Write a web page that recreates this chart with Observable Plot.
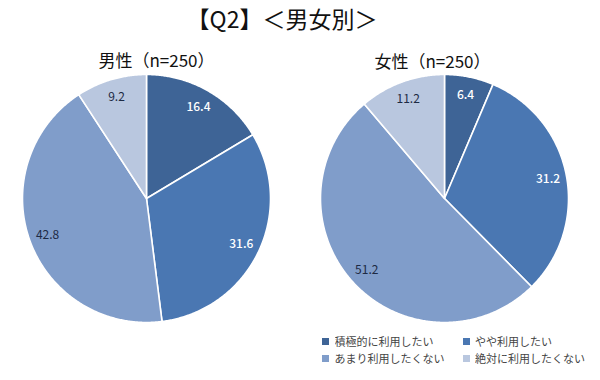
<!DOCTYPE html>
<html>
<head>
<meta charset="utf-8">
<script src="https://cdn.jsdelivr.net/npm/d3@7"></script>
<script src="https://cdn.jsdelivr.net/npm/@observablehq/plot@0.6"></script>
<style>
  html, body { margin: 0; padding: 0; background: #fff; }
  body { width: 600px; height: 380px; position: relative; overflow: hidden;
         font-family: "Noto Sans CJK JP", "Noto Sans", sans-serif; }
  #title { position: absolute; left: 0; top: 0; width: 564px; height: 40px; line-height: 36px;
           text-align: center; font-size: 23px; color: #111; }
  #chart { position: absolute; left: 0; top: 40px; }
  #legend { position: absolute; left: 322px; top: 333px; width: 275px; }
</style>
</head>
<body>
<div id="title">【Q2】＜男女別＞</div>
<div id="chart"></div>
<div id="legend"></div>
<script>
const categories = ["積極的に利用したい", "やや利用したい", "あまり利用したくない", "絶対に利用したくない"];
const genders = ["男性", "女性"];
const sampleSizes = [250, 250];
const maleValues = [16.4, 31.6, 42.8, 9.2];
const femaleValues = [6.4, 31.2, 51.2, 11.2];
const colors = ["#3e6496", "#4a77b2", "#809dca", "#b9c7df"];

const seriesValues = [maleValues, femaleValues];

// Build slice polygons and label anchors from the values
const slicePts = [];
const labels = [];
genders.forEach((g, gi) => {
  const vals = seriesValues[gi];
  const total = d3.sum(vals);
  let cum = 0;
  vals.forEach((v, ci) => {
    const a0 = cum / total * 2 * Math.PI;
    cum += v;
    const a1 = cum / total * 2 * Math.PI;
    const key = g + "|" + ci;
    slicePts.push({gender: g, key, cat: categories[ci], x: 0, y: 0});
    const n = Math.max(2, Math.ceil((a1 - a0) / (Math.PI / 360)));
    for (let k = 0; k <= n; k++) {
      const a = a0 + (a1 - a0) * k / n;
      slicePts.push({gender: g, key, cat: categories[ci], x: Math.sin(a), y: Math.cos(a)});
    }
    const am = (a0 + a1) / 2;
    labels.push({gender: g, ci, text: v.toFixed(1), x: 0.85 * Math.sin(am), y: 0.85 * Math.cos(am)});
  });
});

const subtitle = (d) => d + "（n=" + sampleSizes[genders.indexOf(d)] + "）";

const chart = Plot.plot({
  width: 600,
  height: 340,
  marginLeft: 22,
  marginRight: 32,
  marginTop: 34,
  marginBottom: 58,
  style: {fontFamily: '"Noto Sans CJK JP", "Noto Sans", sans-serif', background: "#fff"},
  fx: {domain: genders, axis: null, paddingInner: 0.168, paddingOuter: 0, label: null},
  x: {domain: [-1, 1], axis: null},
  y: {domain: [-1, 1], axis: null},
  color: {domain: categories, range: colors},
  marks: [
    Plot.line(slicePts, {
      fx: "gender", x: "x", y: "y", z: "key", fill: "cat",
      stroke: "#fff", strokeWidth: 1.6, curve: "linear-closed", strokeLinejoin: "round"
    }),
    Plot.text(labels.filter(d => d.ci < 2), {
      fx: "gender", x: "x", y: "y", text: "text",
      fill: "#fff", fontSize: 12, fontWeight: 500
    }),
    Plot.text(labels.filter(d => d.ci >= 2), {
      fx: "gender", x: "x", y: "y", text: "text",
      fill: "#1d2a44", fontSize: 12
    }),
    Plot.text(genders.slice(0, 1), {
      fx: d => d, text: subtitle,
      frameAnchor: "top", dy: -20, dx: 10, fontSize: 17, fill: "#111"
    }),
    Plot.text(genders.slice(1), {
      fx: d => d, text: subtitle,
      frameAnchor: "top", dy: -19, dx: -12, fontSize: 17, fill: "#111"
    })
  ]
});
document.getElementById("chart").appendChild(chart);

// Legend laid out row by row (Plot fills columns top-down, so interleave)
const legendOrder = [0, 2, 1, 3];
const legend = Plot.legend({
  color: {domain: legendOrder.map(i => categories[i]), range: legendOrder.map(i => colors[i])},
  legend: "swatches",
  columns: 2,
  swatchSize: 7,
  width: 270,
  style: {fontFamily: '"Noto Sans CJK JP", "Noto Sans", sans-serif', fontSize: "11px", color: "#444"}
});
document.getElementById("legend").appendChild(legend);
</script>
</body>
</html>
